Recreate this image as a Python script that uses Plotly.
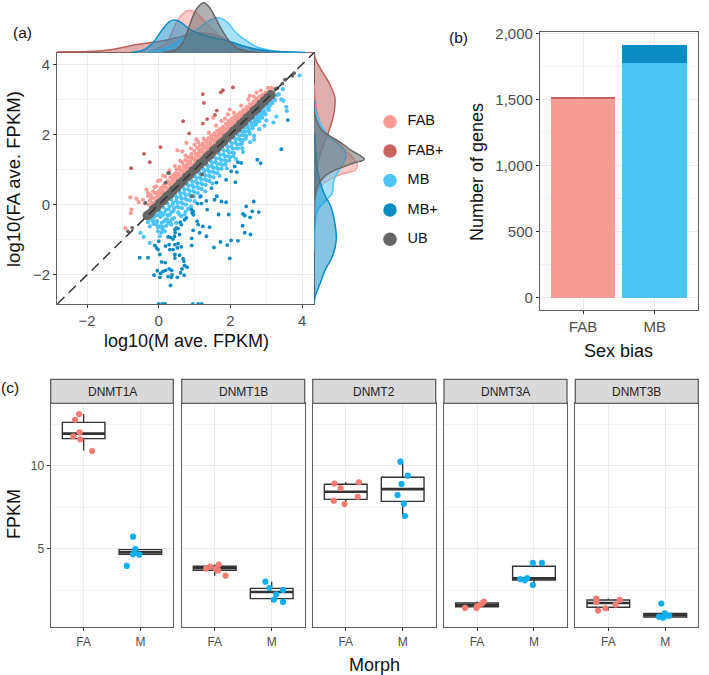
import plotly.graph_objects as go

W, H = 709, 675
FAB_C, FABP_C, MB_C, MBP_C, UB_C = "#FA9C96", "#BE5F5B", "#4CC4F8", "#0B8BC3", "#666666"
INK, BORDER, GRID, GRID2 = "#4D4D4D", "#5F5F5F", "#EBEBEB", "#F3F3F3"
FONT = "Liberation Sans"

FAB_POINTS = [(-0.93,-0.67),(-0.78,-0.24),(-0.79,0.21),(-0.62,0.17),(-0.56,0.07),(-0.39,0.03),(-0.76,-0.14),(-0.34,0.43),(-0.3,0.33),(-0.44,0.14),(-0.2,0.19),(-0.16,0.38),(0.12,0.83),(-0.02,0.67),(-0.07,0.52),(0.52,1.55),(0.66,1.52),(0.77,1.76),(1.05,1.86),(1.0,1.71),(1.52,2.48),(1.93,2.57),(1.98,2.71),(2.54,3.1),(2.73,3.19),(3.05,3.33),
(-0.28,0.0),(-0.25,0.12),(-0.22,0.27),(-0.18,0.05),(-0.14,0.19),(-0.1,0.33),(-0.08,0.1),(-0.04,0.24),(0.0,0.38),(0.02,0.16),(0.05,0.3),(0.07,0.47),(0.1,0.25),(0.13,0.39),(0.16,0.57),(0.19,0.33),(0.22,0.47),(0.25,0.68),(0.27,0.44),(0.3,0.58),(0.33,0.78),(0.35,0.53),(0.38,0.69),(0.41,0.86),(0.44,0.62),(0.47,0.79),(0.5,1.0),(0.52,0.72),(0.55,0.88),(0.58,1.08),(0.6,0.8),(0.63,0.97),(0.66,1.2),(0.68,0.89),(0.71,1.06),(0.74,1.27),(0.77,0.97),(0.8,1.15),(0.83,1.35),(0.85,1.05),(0.88,1.24),(0.91,1.44),(0.93,1.13),(0.96,1.32),(0.99,1.53),(1.01,1.21),(1.04,1.4),(1.07,1.62),(1.09,1.29),(1.12,1.49),(1.15,1.68),(1.17,1.37),(1.2,1.57),(1.23,1.75),(1.25,1.45),(1.28,1.64),(1.31,1.82),(1.33,1.53),(1.36,1.72),(1.39,1.9),(1.41,1.61),(1.44,1.79),(1.47,1.97),(1.49,1.69),(1.52,1.87),(1.55,2.03),(1.57,1.77),(1.6,1.94),(1.63,2.1),(1.65,1.85),(1.68,2.02),(1.71,2.15),(1.73,1.93),(1.76,2.09),(1.79,2.22),(1.81,2.01),(1.84,2.16),(1.87,2.3),(1.89,2.09),(1.92,2.24),(1.95,2.38),(1.97,2.17),(2.0,2.31),(2.03,2.44),(2.05,2.25),(2.08,2.38),(2.11,2.5),(2.13,2.33),(2.16,2.46),(2.19,2.55),(2.21,2.41),(2.24,2.53),(2.27,2.62),(2.3,2.49),(2.33,2.6),(2.36,2.7),(2.39,2.57),(2.42,2.67),(2.45,2.78),(2.48,2.65),(2.51,2.75),(2.54,2.86),(2.57,2.73),(2.6,2.83),(2.63,2.92),(2.66,2.81),(2.69,2.91),(2.72,3.02),(2.75,2.89),(2.78,2.99),(2.81,3.08),(2.84,2.97),(2.87,3.07),(2.9,3.13),(2.93,3.05),(2.96,3.15),(2.99,3.2),(3.02,3.14),(3.1,3.25),(3.15,3.33),
(0.1,0.37),(0.12,0.52),(0.2,0.48),(0.23,0.62),(0.34,0.62),(0.37,0.78),(0.45,0.73),(0.48,0.9),(0.56,0.84),(0.59,1.0),(0.67,0.95),(0.7,1.12),(0.78,1.06),(0.81,1.23),(0.89,1.17),(0.92,1.34),(1.0,1.28),(1.03,1.45),(1.11,1.39),(1.14,1.56),(1.22,1.5),(1.25,1.67),(1.33,1.61),(1.36,1.78),(1.44,1.72),(1.47,1.87),(1.55,1.83),(1.58,1.97),(1.66,1.94),(1.69,2.07),(1.77,2.03),(1.8,2.15),(1.88,2.14),(1.91,2.3),(1.99,2.25),(2.02,2.37),(2.1,2.36),(2.13,2.45),(2.21,2.47),(2.24,2.57),(2.32,2.55),(2.35,2.65),(2.43,2.65),(2.46,2.73),(2.54,2.74),(2.57,2.82),(2.65,2.84),(2.68,2.94),(2.76,2.94),(2.79,3.03),(2.87,3.03),(2.98,3.12),(-0.02,0.2),(0.0,0.3),(0.04,0.4),(0.09,0.36),
(0.3,0.98),(0.45,1.1),(0.6,1.25),(0.75,1.4),(0.9,1.6),(1.1,1.78),(1.25,1.88),(1.4,2.05),(1.6,2.25),(1.75,2.38),(1.85,2.45),(2.1,2.62),(2.3,2.82),(2.5,3.0),(2.65,3.08),(-0.3,0.25),(-0.12,0.5),(0.05,0.7),(0.18,0.8),(2.85,3.25)]

FABP_POINTS = [(-0.77,1.04),(-0.41,1.45),(-0.25,1.21),(0.05,1.64),(0.68,2.38),(0.85,2.03),(1.23,3.15),(1.26,2.9),(1.62,2.68),(1.57,2.56),(1.35,2.44),(1.23,2.31),(1.73,3.2),(1.79,3.26),(2.07,3.34)]

MB_POINTS = [(-0.51,-0.8),(-0.42,-0.92),(-0.25,-1.09),(-0.16,-0.47),(-0.06,-0.57),(0.03,-0.62),(0.12,-0.63),(-0.02,-0.76),(0.07,-0.8),(0.17,-0.76),(0.03,-0.9),(0.63,-0.33),(0.72,-0.28),(0.58,-0.28),(0.49,-0.52),(0.35,-0.57),(0.26,-0.52),(0.82,-0.12),
(-0.3,-0.5),(-0.25,-0.62),(-0.2,-0.42),(-0.15,-0.55),(-0.12,-0.35),(-0.08,-0.3),(-0.05,-0.47),(-0.02,-0.65),(0.02,-0.2),(0.05,-0.35),(0.08,-0.52),(0.1,-0.7),(0.13,-0.08),(0.16,-0.24),(0.19,-0.42),(0.21,-0.6),(0.24,0.04),(0.27,-0.13),(0.3,-0.3),(0.32,-0.5),(0.35,0.15),(0.38,0.0),(0.41,-0.18),(0.43,-0.38),
(0.46,0.26),(0.49,0.11),(0.52,-0.05),(0.54,-0.22),(0.57,0.37),(0.6,0.22),(0.63,0.06),(0.65,-0.1),(0.68,0.48),(0.71,0.33),(0.74,0.17),(0.76,0.0),(0.79,0.59),(0.82,0.44),(0.85,0.28),(0.87,0.12),(0.9,0.7),(0.93,0.55),(0.96,0.39),(0.98,0.24),(1.01,0.81),(1.04,0.66),(1.07,0.5),(1.09,0.33),(1.12,0.92),(1.15,0.77),(1.18,0.61),(1.2,0.45),(1.23,1.03),(1.26,0.88),(1.29,0.72),(1.31,0.56),(1.34,1.14),(1.37,0.99),(1.4,0.83),(1.42,0.67),(1.45,1.25),(1.48,1.1),(1.51,0.94),(1.53,0.78),(1.56,1.36),(1.59,1.21),(1.62,1.05),(1.64,0.9),(1.67,1.47),(1.7,1.32),(1.73,1.16),(1.75,1.02),(1.78,1.58),(1.81,1.43),(1.84,1.27),(1.86,1.14),(1.89,1.69),(1.92,1.54),(1.95,1.38),(1.97,1.26),(2.0,1.8),(2.03,1.65),(2.06,1.49),(2.08,1.38),(2.11,1.91),(2.14,1.76),(2.17,1.6),(2.2,2.0),(2.23,1.87),(2.26,1.72),(2.29,2.1),(2.32,1.98),(2.35,1.84),(2.38,2.19),(2.41,2.08),(2.44,1.96),(2.47,2.28),(2.5,2.18),(2.53,2.08),(2.56,2.37),(2.59,2.27),(2.62,2.18),(2.65,2.46),(2.68,2.37),(2.71,2.28),(2.74,2.55),(2.77,2.46),(2.8,2.38),(2.83,2.64),(2.86,2.55),(2.89,2.48),(2.92,2.73),(2.95,2.64),(2.98,2.57),(3.01,2.82),(3.04,2.73),(3.07,2.9),(3.1,2.82),(3.13,2.98),(3.17,2.9),(3.2,3.04),(3.25,2.98),(3.3,3.12),(3.35,3.15),
(3.93,3.68),(3.46,3.29),(3.42,3.0),(3.48,2.96),(3.56,2.79),(3.57,2.67),(3.28,2.51),(3.2,2.34),(3.07,2.7),(2.95,2.25),(2.66,1.96),(2.66,1.85),(2.33,1.61),
(0.5,0.21),(0.53,0.06),(0.56,-0.08),(0.61,0.32),(0.64,0.17),(0.67,0.03),(0.72,0.43),(0.75,0.28),(0.78,0.14),(0.83,0.54),(0.86,0.39),(0.89,0.25),(0.94,0.65),(0.97,0.5),(1.0,0.36),(1.05,0.76),(1.08,0.61),(1.11,0.47),(1.16,0.87),(1.19,0.72),(1.22,0.58),(1.27,0.98),(1.3,0.83),(1.33,0.69),(1.38,1.09),(1.41,0.94),(1.44,0.8),(1.49,1.2),(1.52,1.05),(1.55,0.91),(1.6,1.31),(1.63,1.16),(1.66,1.02),(1.71,1.42),(1.74,1.27),(1.77,1.13),(1.82,1.53),(1.85,1.38),(1.88,1.24),(1.93,1.64),(1.96,1.49),(1.99,1.35),(2.04,1.75),(2.07,1.6),(2.1,1.47),(2.15,1.86),(2.18,1.72),(2.21,1.6),(2.26,1.97),(2.29,1.84),(2.32,1.74),(2.37,2.08),(2.4,1.97),(2.43,1.88),(2.48,2.2),(2.51,2.1),(2.54,2.02),(2.59,2.32),(2.62,2.24),(2.7,2.43),(2.73,2.36),(2.81,2.55),(2.84,2.48),(2.92,2.66),(2.95,2.6),(3.03,2.78),
(0.0,-0.3),(0.06,-0.22),(0.11,-0.3),(0.15,-0.48),(0.2,-0.15),(0.25,-0.3),(0.3,-0.06),(0.35,-0.22),(0.4,0.05),(0.43,-0.1),(0.37,-0.42),(0.24,-0.42),
(1.0,0.1),(1.15,0.22),(1.3,0.38),(1.5,0.6),(1.7,0.82),(1.9,1.03),(2.15,1.3),(2.35,1.5),(2.55,1.78),(2.8,2.15),(3.0,2.4),(0.9,-0.05),(0.75,-0.2)]

MBP_POINTS = [(-0.53,-1.51),(-0.3,-1.51),(-0.13,-2.01),(-0.04,-1.88),(0.03,-2.07),(0.05,-1.96),(0.12,-1.9),(0.19,-1.87),(0.26,-2.05),(0.29,-1.83),(0.36,-1.87),(0.37,-2.0),(0.35,-2.07),(0.52,-2.07),(0.33,-2.3),(0.08,-1.63),(0.18,-1.65),(0.45,-1.52),(0.45,-1.42),(0.58,-1.44),(0.68,-1.54),(0.7,-1.61),(0.79,-1.78),(0.72,-1.73),(0.65,-1.83),(0.71,-2.01),(0.61,-1.94),(0.03,-1.42),(-0.06,-1.23),(-0.11,-1.16),(-0.02,-1.28),(0.0,-1.04),(0.19,-1.18),(0.29,-1.14),(0.26,-0.92),(0.32,-0.93),(0.4,-0.98),(0.31,-1.28),(0.4,-1.28),(0.45,-1.14),(0.52,-1.23),(0.63,-1.2),(0.54,-1.11),(0.45,-0.71),(0.49,-0.66),(0.54,-0.68),(0.58,-0.85),(0.46,-0.79),(0.44,-0.9),(0.6,-0.5),(0.63,-0.57),(0.72,-0.43),(0.77,-0.38),(0.91,-0.14),(0.96,-0.19),(0.93,-0.24),(0.97,-0.29),(1.07,-0.47),(1.1,-0.57),(1.23,-0.62),(1.42,-0.64),(0.96,-0.73),(0.92,-0.96),(1.14,-0.8),(1.33,-0.9),(0.92,-1.16),(1.54,-1.22),(1.72,-1.06),(1.91,-1.15),(2.02,-1.02),(2.21,-1.03),(1.98,-1.53),(1.08,0.03),(1.19,0.03),(1.33,0.11),(1.35,-0.14),(1.56,0.14),(1.62,0.24),(1.75,0.09),(1.88,0.07),(1.67,-0.28),(1.95,-0.28),(2.35,-0.26),(2.4,-0.31),(2.55,-0.36),(2.34,-0.6),(2.4,-0.8),(2.56,-0.85),(2.44,-0.05),(2.65,0.09),(2.61,-0.19),(2.79,-0.21),(3.6,2.41),(3.42,1.58),(2.75,1.28),(2.84,1.18),(2.21,1.21),(2.3,1.19),(2.12,1.09),(2.02,0.95),(2.18,0.93),(1.88,0.71),(1.61,0.63),(2.14,0.64),(1.47,0.47),(1.17,0.24),
(0.0,-2.83),(0.1,-2.83),(0.18,-2.83),(0.95,-2.83),(1.1,-2.83),(1.2,-2.83)]

UB_BAND_X = [-0.32,-0.24,-0.15,-0.06,0.03,0.13,0.22,0.31,0.4,0.5,0.59,0.68,0.78,0.87,0.96,1.06,1.15,1.25,1.34,1.43,1.53,1.62,1.72,1.81,1.9,2.0,2.09,2.19,2.28,2.37,2.47,2.56,2.66,2.75,2.85,2.95,3.04,3.13]
UB_BAND_Y = [-0.31,-0.25,-0.13,-0.07,0.04,0.12,0.23,0.3,0.41,0.49,0.6,0.67,0.79,0.86,0.97,1.05,1.16,1.24,1.35,1.42,1.54,1.61,1.73,1.8,1.91,1.99,2.1,2.18,2.29,2.36,2.48,2.55,2.67,2.74,2.86,2.96,3.05,3.13]
UB_POINTS = [(3.18,3.2),(3.25,3.3),(3.31,3.32),(3.45,3.45),(3.52,3.56),(3.72,3.67),(3.78,3.75),(-0.74,-0.66),(-0.86,-0.76),(0.26,0.9),(0.19,0.63),(0.93,0.24),(1.21,0.86),(0.29,0.9),(-0.37,0.05)]

D_TOP_FABP = ([-2.85,-2.1,-1.6,-1.18,-0.72,-0.25,0.2,0.5,0.85,1.2,1.6,2.0,2.4,2.8,3.2,3.6,4.3],
              [0.02,0.02,0.04,0.08,0.15,0.2,0.25,0.3,0.36,0.4,0.35,0.22,0.12,0.05,0.02,0.005,0])
D_TOP_FAB = ([-0.6,-0.25,0.21,0.49,0.67,0.86,1.05,1.32,1.61,1.98,2.35,2.72,3.09,3.6],
             [0,0.03,0.2,0.6,0.78,0.85,0.8,0.6,0.4,0.2,0.08,0.03,0.01,0])
D_TOP_MBP = ([-0.75,-0.44,-0.16,0.12,0.3,0.49,0.67,0.86,1.14,1.42,1.79,2.16,2.53,2.9,3.27,3.65,4.1],
             [0.01,0.05,0.2,0.48,0.62,0.65,0.58,0.47,0.38,0.32,0.26,0.18,0.1,0.05,0.025,0.015,0.005])
D_TOP_MB = ([-0.35,0.12,0.49,0.86,1.14,1.42,1.65,1.89,2.16,2.44,2.72,3.09,3.46,3.93],
            [0.01,0.07,0.2,0.38,0.5,0.65,0.7,0.62,0.4,0.24,0.12,0.05,0.02,0.005])
D_TOP_UB = ([0.12,0.49,0.67,0.86,1.05,1.25,1.42,1.61,1.79,1.98,2.16,2.44,2.72,3.09],
            [0.01,0.06,0.2,0.55,0.87,1.0,0.9,0.66,0.42,0.22,0.1,0.03,0.01,0])

D_RT_FABP = ([4.31,4.12,3.93,3.46,3.07,2.79,2.51,2.13,1.75,1.37,0.99,0.62,0.14,-0.5],
             [0,0.03,0.1,0.3,0.41,0.41,0.38,0.3,0.2,0.1,0.05,0.02,0.01,0])
D_RT_FAB = ([3.46,2.98,2.51,2.04,1.75,1.56,1.37,1.13,0.99,0.85,0.62,0.43,0.14,-0.3],
            [0,0.02,0.08,0.2,0.5,0.62,0.75,0.86,0.82,0.5,0.2,0.07,0.02,0.005])
D_RT_MBP = ([2.04,1.56,1.1,0.62,0.24,-0.05,-0.52,-1.0,-1.45,-1.85,-2.23,-2.6,-2.8],
            [0.01,0.03,0.05,0.12,0.22,0.33,0.41,0.44,0.37,0.22,0.12,0.02,0])
D_RT_MB = ([2.98,2.51,2.04,1.75,1.56,1.37,1.1,0.8,0.62,0.33,0.14,-0.14,-0.52,-1.28],
           [0.01,0.06,0.24,0.45,0.6,0.63,0.55,0.42,0.38,0.36,0.25,0.07,0.02,0.005])
D_RT_UB = ([2.98,2.51,2.13,1.94,1.75,1.56,1.3,1.18,0.99,0.8,0.62,0.43,0.14],
           [0.005,0.02,0.15,0.33,0.55,0.72,1.0,0.78,0.42,0.2,0.1,0.04,0.01])

LEGEND_LABELS = ["FAB", "FAB+", "MB", "MB+", "UB"]
LEGEND_COLORS = [FAB_C, "#C8625E", MB_C, MBP_C, UB_C]

BAR_CATS = ["FAB", "MB"]
BAR_BASE = [1500, 1776]
BAR_PLUS = [18, 136]

GENES = ["DNMT1A", "DNMT1B", "DNMT2", "DNMT3A", "DNMT3B"]
MORPHS = ["FA", "M"]
FA_VALUES = [[13.11,12.77,12.01,11.77,11.59,10.88],[3.8,3.92,4.04,3.78,3.69,3.37],[8.92,8.65,9.0,8.13,7.89,7.69],[1.43,1.43,1.52,1.6,1.71,1.81],[1.99,1.77,1.91,1.63,1.41,1.27]]
FA_JITTER = [[-0.08,-0.15,-0.07,-0.18,-0.06,0.15],[-0.15,-0.08,0.07,0.02,0.06,0.19],[-0.2,-0.09,0.23,0.21,-0.21,-0.02],[-0.21,-0.01,0.0,0.05,0.09,0.12],[-0.21,-0.21,0.2,0.13,-0.05,-0.18]]
M_VALUES = [[5.72,4.98,4.66,4.64,4.76,3.96],[3.01,2.63,2.51,2.25,1.93,1.79],[10.24,9.4,8.9,8.23,7.71,6.97],[4.14,4.14,3.17,3.09,3.23,2.81],[1.69,1.1,0.9,0.84,0.96,0.96]]
M_JITTER = [[-0.13,-0.09,-0.13,-0.02,-0.1,-0.24],[-0.11,-0.04,0.2,0.08,0.04,0.2],[-0.04,0.09,-0.02,-0.09,0.02,0.04],[-0.02,0.14,-0.24,-0.16,-0.12,-0.02],[-0.07,-0.01,-0.11,-0.04,0.07,0.02]]
# box statistics [FA, M] per gene
Q1 = [[11.63,4.66],[3.69,1.99],[7.97,7.85],[1.5,3.11],[1.47,0.88]]
MED = [[11.93,4.78],[3.82,2.39],[8.43,8.59],[1.61,3.21],[1.73,1.0]]
Q3 = [[12.61,4.94],[3.94,2.61],[8.88,9.3],[1.73,3.94],[1.91,1.1]]
LOW = [[10.92,4.64],[3.37,1.79],[7.69,6.97],[1.43,2.81],[1.27,0.84]]
HIGH = [[13.11,4.98],[4.04,3.01],[9.0,10.24],[1.81,4.14],[1.99,1.1]]

def rgba(h, a):
    return f"rgba({int(h[1:3],16)},{int(h[3:5],16)},{int(h[5:7],16)},{a})"
def dx(a, b): return [a / W, b / W]
def dy(top, bottom): return [1 - bottom / H, 1 - top / H]

fig = go.Figure()
PANEL_A_X = dict(range=[-2.83, 4.34], domain=dx(57.3, 314.3))
PANEL_A_Y = dict(range=[-2.83, 4.33], domain=dy(52.7, 304))
base_axis = dict(automargin=False, showline=True, mirror=True, linecolor=BORDER, linewidth=1.3, ticks="outside", ticklen=3,
                 tickwidth=1, tickcolor="#333333", showgrid=True, gridcolor=GRID, gridwidth=1.1, zeroline=False,
                 tickfont=dict(family=FONT, size=15, color=INK))
hidden = dict(automargin=False, visible=False, showgrid=False, zeroline=False, fixedrange=True)

def add_xy(pts, color, size):
    fig.add_trace(go.Scatter(x=[p[0] for p in pts], y=[p[1] for p in pts], mode="markers", xaxis="x", yaxis="y",
                             marker=dict(color=color, size=size, line=dict(width=0)), showlegend=False, cliponaxis=True))

add_xy(FAB_POINTS, FAB_C, 4.2)
add_xy(MB_POINTS, MB_C, 4.2)
add_xy(FABP_POINTS, FABP_C, 3.8)
add_xy(MBP_POINTS, MBP_C, 3.8)
fig.add_trace(go.Scatter(x=UB_BAND_X, y=UB_BAND_Y, mode="markers", xaxis="x", yaxis="y",
                         marker=dict(color=UB_C, size=9.5, line=dict(width=0)), showlegend=False))
add_xy(UB_POINTS, UB_C, 3.8)
fig.add_trace(go.Scatter(x=PANEL_A_X["range"], y=PANEL_A_X["range"], mode="lines", xaxis="x", yaxis="y", showlegend=False,
                         line=dict(color="#333333", width=1.5, dash="10px,6px")))

for d, c in [(D_TOP_FAB, FAB_C), (D_TOP_FABP, FABP_C), (D_TOP_MB, MB_C), (D_TOP_MBP, MBP_C), (D_TOP_UB, UB_C)]:
    fig.add_trace(go.Scatter(x=d[0], y=d[1], mode="lines", xaxis="x2", yaxis="y2", fill="tozeroy", showlegend=False,
                             fillcolor=rgba(c, 0.5), line=dict(color=c, width=1.5, shape="spline", smoothing=1)))
for d, c in [(D_RT_FAB, FAB_C), (D_RT_FABP, FABP_C), (D_RT_MB, MB_C), (D_RT_MBP, MBP_C), (D_RT_UB, UB_C)]:
    fig.add_trace(go.Scatter(x=d[1], y=d[0], mode="lines", xaxis="x3", yaxis="y3", fill="tozerox", showlegend=False,
                             fillcolor=rgba(c, 0.5), line=dict(color=c, width=1.5, shape="spline", smoothing=1)))

bar_x = list(range(len(BAR_CATS)))
fig.add_trace(go.Bar(x=bar_x, y=BAR_BASE, xaxis="x4", yaxis="y4", width=0.9, marker=dict(color=[FAB_C, MB_C], line=dict(width=0)), showlegend=False))
fig.add_trace(go.Bar(x=bar_x, y=BAR_PLUS, xaxis="x4", yaxis="y4", width=0.9, marker=dict(color=["#C8625E", MBP_C], line=dict(width=0)), showlegend=False))

legend_y = list(range(len(LEGEND_LABELS)))[::-1]
fig.add_trace(go.Scatter(x=[0] * len(LEGEND_LABELS), y=legend_y, mode="markers", xaxis="x5", yaxis="y5", showlegend=False,
                         marker=dict(color=LEGEND_COLORS, size=13.5, line=dict(width=0))))
fig.add_trace(go.Scatter(x=[0.22] * len(LEGEND_LABELS), y=legend_y, text=LEGEND_LABELS, mode="text", textposition="middle right",
                         xaxis="x5", yaxis="y5", showlegend=False, textfont=dict(family=FONT, size=14.5, color="#111111")))

PANELS_C = [(50.7, 173.3), (181.7, 304.7), (312.7, 435.7), (444, 567), (575.3, 698.3)]
HALF = 0.375
layout_axes = {}
shapes, annos = [], []
for i, g in enumerate(GENES):
    n = 6 + i
    xa, ya = f"x{n}", f"y{n}"
    fig.add_trace(go.Box(x=[0, 1], q1=Q1[i], median=MED[i], q3=Q3[i], lowerfence=LOW[i], upperfence=HIGH[i],
                         width=2 * HALF, xaxis=xa, yaxis=ya, fillcolor="rgba(255,255,255,0.9)", whiskerwidth=0,
                         line=dict(color="#333333", width=1.4), boxpoints=False, showlegend=False, hoverinfo="skip"))
    mx, my = [], []
    for k, m in enumerate(MED[i]):
        mx += [k - HALF, k + HALF, None]
        my += [m, m, None]
    fig.add_trace(go.Scatter(x=mx, y=my, mode="lines", xaxis=xa, yaxis=ya, showlegend=False,
                             line=dict(color="#333333", width=2.6)))
    for k, (vals, jit, col) in enumerate([(FA_VALUES[i], FA_JITTER[i], "#F47C74"), (M_VALUES[i], M_JITTER[i], "#11AEF0")]):
        fig.add_trace(go.Scatter(x=[k + j for j in jit], y=vals, mode="markers", xaxis=xa, yaxis=ya, showlegend=False,
                                 marker=dict(color=col, size=6.2, line=dict(width=0))))
    a, b = PANELS_C[i]
    small = dict(family=FONT, size=12, color=INK)
    layout_axes[f"xaxis{n}"] = dict(base_axis, domain=dx(a, b), range=[-0.58, 1.58], tickmode="array", tickvals=[0, 1],
                                    ticktext=MORPHS, anchor=ya, tickfont=small)
    layout_axes[f"yaxis{n}"] = dict(base_axis, domain=dy(403.3, 627), range=[0.28, 13.76], tickmode="array",
                                    tickvals=[5, 10], anchor=xa, tickfont=small, showticklabels=i == 0,
                                    ticks="outside" if i == 0 else "",
                                    minor=dict(showgrid=True, gridcolor=GRID2, gridwidth=0.8, tickmode="array", tickvals=[2.5, 7.5, 12.5], ticks=""))
    shapes.append(dict(type="rect", xref="paper", yref="paper", x0=a / W, x1=b / W, y0=1 - 403.3 / H, y1=1 - 379.3 / H,
                       fillcolor="#D9D9D9", line=dict(color=BORDER, width=1.3)))
    annos.append(dict(text=g, xref="paper", yref="paper", x=(a + b) / 2 / W, y=1 - 391.5 / H, showarrow=False,
                      xanchor="center", yanchor="middle", font=dict(family=FONT, size=12, color="#222222")))

def label(text, x, y, size=18, rot=0, color="#111111"):
    annos.append(dict(text=text, xref="paper", yref="paper", x=x / W, y=1 - y / H, showarrow=False, textangle=rot,
                      xanchor="center", yanchor="middle", font=dict(family=FONT, size=size, color=color)))

label("log10(M ave. FPKM)", 186, 341)
label("log10(FA ave. FPKM)", 13, 179, size=18.5, rot=-90)
label("Number of genes", 477, 172, rot=-90)
label("Sex bias", 618, 351)
label("FPKM", 14, 514, rot=-90)
label("Morph", 375, 665)
label("(a)", 22, 32, size=15.5)
label("(b)", 458, 38, size=15.5)
label("(c)", 10, 387, size=15.5)

fig.update_layout(
    template="none",
    width=W, height=H, margin=dict(l=0, r=0, t=0, b=0), paper_bgcolor="white", plot_bgcolor="white",
    barmode="stack", showlegend=False, hovermode=False, shapes=shapes, annotations=annos,
    xaxis=dict(base_axis, **PANEL_A_X, tickmode="array", tickvals=[-2, 0, 2, 4], anchor="y",
               minor=dict(showgrid=True, gridcolor=GRID2, gridwidth=0.8, tickmode="array", tickvals=[-1, 1, 3], ticks="")),
    yaxis=dict(base_axis, **PANEL_A_Y, tickmode="array", tickvals=[-2, 0, 2, 4], anchor="x",
               minor=dict(showgrid=True, gridcolor=GRID2, gridwidth=0.8, tickmode="array", tickvals=[-1, 1, 3], ticks="")),
    xaxis2=dict(hidden, range=PANEL_A_X["range"], domain=PANEL_A_X["domain"], anchor="y2"),
    yaxis2=dict(hidden, range=[0, 1.054], domain=dy(0, 52.7), anchor="x2"),
    xaxis3=dict(hidden, range=[0, 1.034], domain=dx(314.3, 366), anchor="y3"),
    yaxis3=dict(hidden, range=PANEL_A_Y["range"], domain=PANEL_A_Y["domain"], anchor="x3"),
    xaxis4=dict(base_axis, domain=dx(540, 697.7), range=[-0.6, 1.6], tickmode="array", tickvals=bar_x, ticktext=BAR_CATS, anchor="y4"),
    yaxis4=dict(base_axis, domain=dy(32.3, 310), range=[-93, 2008], tickmode="array", tickvals=[0, 500, 1000, 1500, 2000], tickformat=",", anchor="x4",
                minor=dict(showgrid=True, gridcolor=GRID2, gridwidth=0.8, tickmode="array", tickvals=[250, 750, 1250, 1750], ticks="")),
    xaxis5=dict(hidden, domain=dx(380, 460), range=[-10 / 80, 70 / 80], anchor="y5"),
    yaxis5=dict(hidden, domain=dy(107, 254), range=[-0.5, 4.5], anchor="x5"),
    **layout_axes,
)
fig.write_html("out.html", config=dict(displayModeBar=False), post_script="document.body.style.margin='0';document.documentElement.style.overflow='hidden';")
